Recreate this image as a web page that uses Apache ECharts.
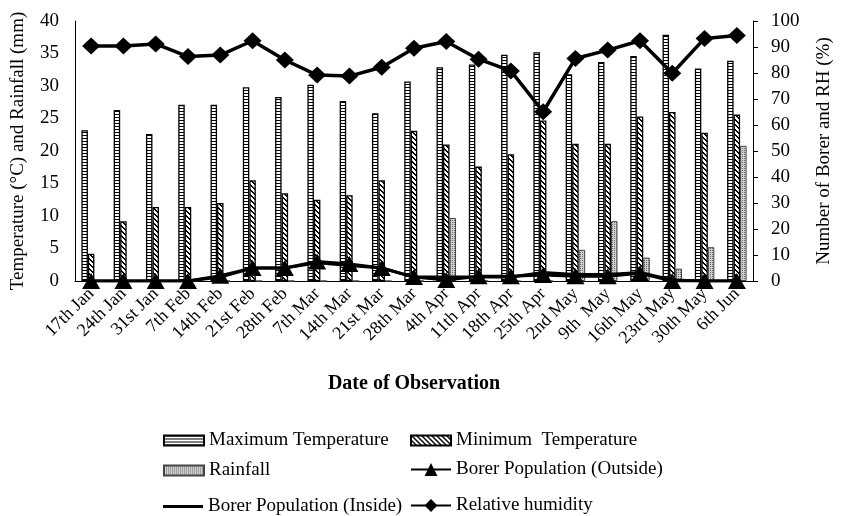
<!DOCTYPE html>
<html>
<head>
<meta charset="utf-8">
<title>Weather and borer population</title>
<script src="https://cdn.jsdelivr.net/npm/echarts@6/dist/echarts.min.js"></script>
<style>
  html, body { margin: 0; padding: 0; background: #fff; }
  #chart { width: 842px; height: 516px; }
</style>
</head>
<body>
<div id="chart"></div>
<script>
// data
var dates = ['17th Jan', '24th Jan', '31st Jan', '7th Feb', '14th Feb', '21st Feb', '28th Feb',
  '7th Mar', '14th Mar', '21st Mar', '28th Mar', '4th Apr', '11th Apr', '18th Apr', '25th Apr',
  '2nd May', '9th  May', '16th May', '23rd May', '30th May', '6th Jun'];
var maxTemp = [23.2, 26.3, 22.6, 27.1, 27.1, 29.8, 28.3, 30.2, 27.7, 25.8, 30.7,
  32.9, 33.3, 34.8, 35.2, 31.8, 33.7, 34.6, 37.9, 32.7, 33.9];
var minTemp = [4.2, 9.2, 11.4, 11.4, 12.0, 15.5, 13.5, 12.5, 13.2, 15.5, 23.1,
  21.0, 17.6, 19.5, 24.7, 21.1, 21.1, 25.3, 26.0, 22.8, 25.6];
var rainfall = [0, 0, 0, 0, 0, 0, 0, 0, 0, 0, 0,
  9.7, 0, 0, 0, 4.8, 9.2, 3.6, 1.9, 5.2, 20.8];
var borerOutside = [0, 0, 0, 0, 2, 5, 5, 7.5, 6.5, 5, 1.5,
  0.4, 1.8, 1.8, 2.3, 1.8, 1.8, 3, 0, 0, 0];
var borerInside = [0, 0, 0, 0, 1.5, 5, 5, 7, 6, 5, 1.5,
  1.5, 1.5, 1.5, 3.3, 2.5, 2.5, 3.3, 0.4, 0, 0];
var humidity = [90.4, 90.4, 91.2, 86.3, 86.9, 92.4, 85, 79.2, 78.8, 82.2, 89.5,
  92.1, 85.3, 80.8, 65.1, 85.6, 88.8, 92.4, 79.9, 93.3, 94.4];

var FONT = 'Liberation Serif';

// hatch fills for the bars
function makePattern(kind) {
  var c = document.createElement('canvas');
  var ctx;
  if (kind === 'h') {
    c.width = 4; c.height = 3;
    ctx = c.getContext('2d');
    ctx.fillStyle = '#fff'; ctx.fillRect(0, 0, 4, 3);
    ctx.fillStyle = '#000'; ctx.fillRect(0, 0, 4, 1);
  } else if (kind === 'd') {
    c.width = 5; c.height = 5;
    ctx = c.getContext('2d');
    ctx.fillStyle = '#fff'; ctx.fillRect(0, 0, 5, 5);
    ctx.fillStyle = '#000';
    for (var i = 0; i < 5; i++) {
      ctx.fillRect(i, i, 1, 1);
      ctx.fillRect((i + 1) % 5, i, 1, 1);
    }
  } else {
    c.width = 2; c.height = 2;
    ctx = c.getContext('2d');
    ctx.fillStyle = '#cfcfcf'; ctx.fillRect(0, 0, 2, 2);
    ctx.fillStyle = '#6e6e6e'; ctx.fillRect(0, 0, 1, 1);
  }
  return { image: c, repeat: 'repeat' };
}

function legendAt(name, left, top, w, h, icon) {
  var item = { name: name };
  if (icon) item.icon = icon;
  return {
    data: [item], left: left, top: top, itemWidth: w, itemHeight: h,
    textStyle: { fontFamily: FONT, fontSize: 19, color: '#000' },
    selectedMode: false
  };
}

var chart = echarts.init(document.getElementById('chart'));
chart.setOption({
  animation: false,
  textStyle: { fontFamily: FONT },
  grid: { left: 75, right: 75, top: 21, bottom: 235 },
  legend: [
    legendAt('Maximum Temperature', 158, 426, 40, 10, 'rect'),
    legendAt('Minimum  Temperature', 405, 426, 40, 10, 'rect'),
    legendAt('Rainfall', 158, 456, 40, 10, 'rect'),
    legendAt('Borer Population (Outside)', 405, 455, 40, 16),
    legendAt('Borer Population (Inside)', 158, 492, 40, 3, 'rect'),
    legendAt('Relative humidity', 405, 491, 40, 16)
  ],
  xAxis: {
    type: 'category',
    data: dates,
    name: 'Date of Observation',
    nameLocation: 'middle',
    nameGap: 93,
    nameTextStyle: { fontFamily: FONT, fontSize: 20, fontWeight: 'bold', color: '#000' },
    axisLine: { lineStyle: { color: '#000', width: 1 } },
    axisTick: { show: false },
    axisLabel: { interval: 0, rotate: 45, margin: 10, fontFamily: FONT, fontSize: 18, color: '#000' }
  },
  yAxis: [{
    type: 'value',
    min: 0, max: 40, interval: 5,
    name: 'Temperature (°C) and Rainfall (mm)',
    nameLocation: 'middle',
    nameGap: 47,
    nameTextStyle: { fontFamily: FONT, fontSize: 19, color: '#000' },
    axisLine: { show: true, lineStyle: { color: '#000', width: 1 } },
    axisTick: { show: false },
    splitLine: { show: false },
    axisLabel: { margin: 16, fontFamily: FONT, fontSize: 19, color: '#000' }
  }, {
    type: 'value',
    min: 0, max: 100, interval: 10,
    name: 'Number of Borer and RH (%)',
    nameLocation: 'middle',
    nameRotate: 90,
    nameGap: 62,
    nameTextStyle: { fontFamily: FONT, fontSize: 19, color: '#000' },
    axisLine: { show: true, lineStyle: { color: '#000', width: 1 } },
    axisTick: { show: true, inside: false, length: 5, lineStyle: { color: '#000' } },
    splitLine: { show: false },
    axisLabel: { margin: 18, fontFamily: FONT, fontSize: 19, color: '#000' }
  }],
  series: [{
    name: 'Maximum Temperature',
    type: 'bar',
    barWidth: 6.5,
    barGap: '0%',
    data: maxTemp,
    itemStyle: { color: makePattern('h'), borderColor: '#000', borderWidth: 1.3 }
  }, {
    name: 'Minimum  Temperature',
    type: 'bar',
    barWidth: 6.5,
    barGap: '0%',
    data: minTemp,
    itemStyle: { color: makePattern('d'), borderColor: '#000', borderWidth: 1.3 }
  }, {
    name: 'Rainfall',
    type: 'bar',
    barWidth: 6.5,
    barGap: '0%',
    data: rainfall,
    itemStyle: { color: makePattern('r'), borderColor: '#444', borderWidth: 1 }
  }, {
    name: 'Borer Population (Outside)',
    type: 'line',
    yAxisIndex: 1,
    data: borerOutside,
    symbol: 'triangle',
    symbolSize: [18, 16],
    lineStyle: { color: '#000', width: 3 },
    itemStyle: { color: '#000' }
  }, {
    name: 'Borer Population (Inside)',
    type: 'line',
    yAxisIndex: 1,
    data: borerInside,
    symbol: 'none',
    lineStyle: { color: '#000', width: 3 },
    itemStyle: { color: '#000' }
  }, {
    name: 'Relative humidity',
    type: 'line',
    yAxisIndex: 1,
    data: humidity,
    symbol: 'diamond',
    symbolSize: [18, 17],
    lineStyle: { color: '#000', width: 3.5 },
    itemStyle: { color: '#000' }
  }]
});
</script>
</body>
</html>
